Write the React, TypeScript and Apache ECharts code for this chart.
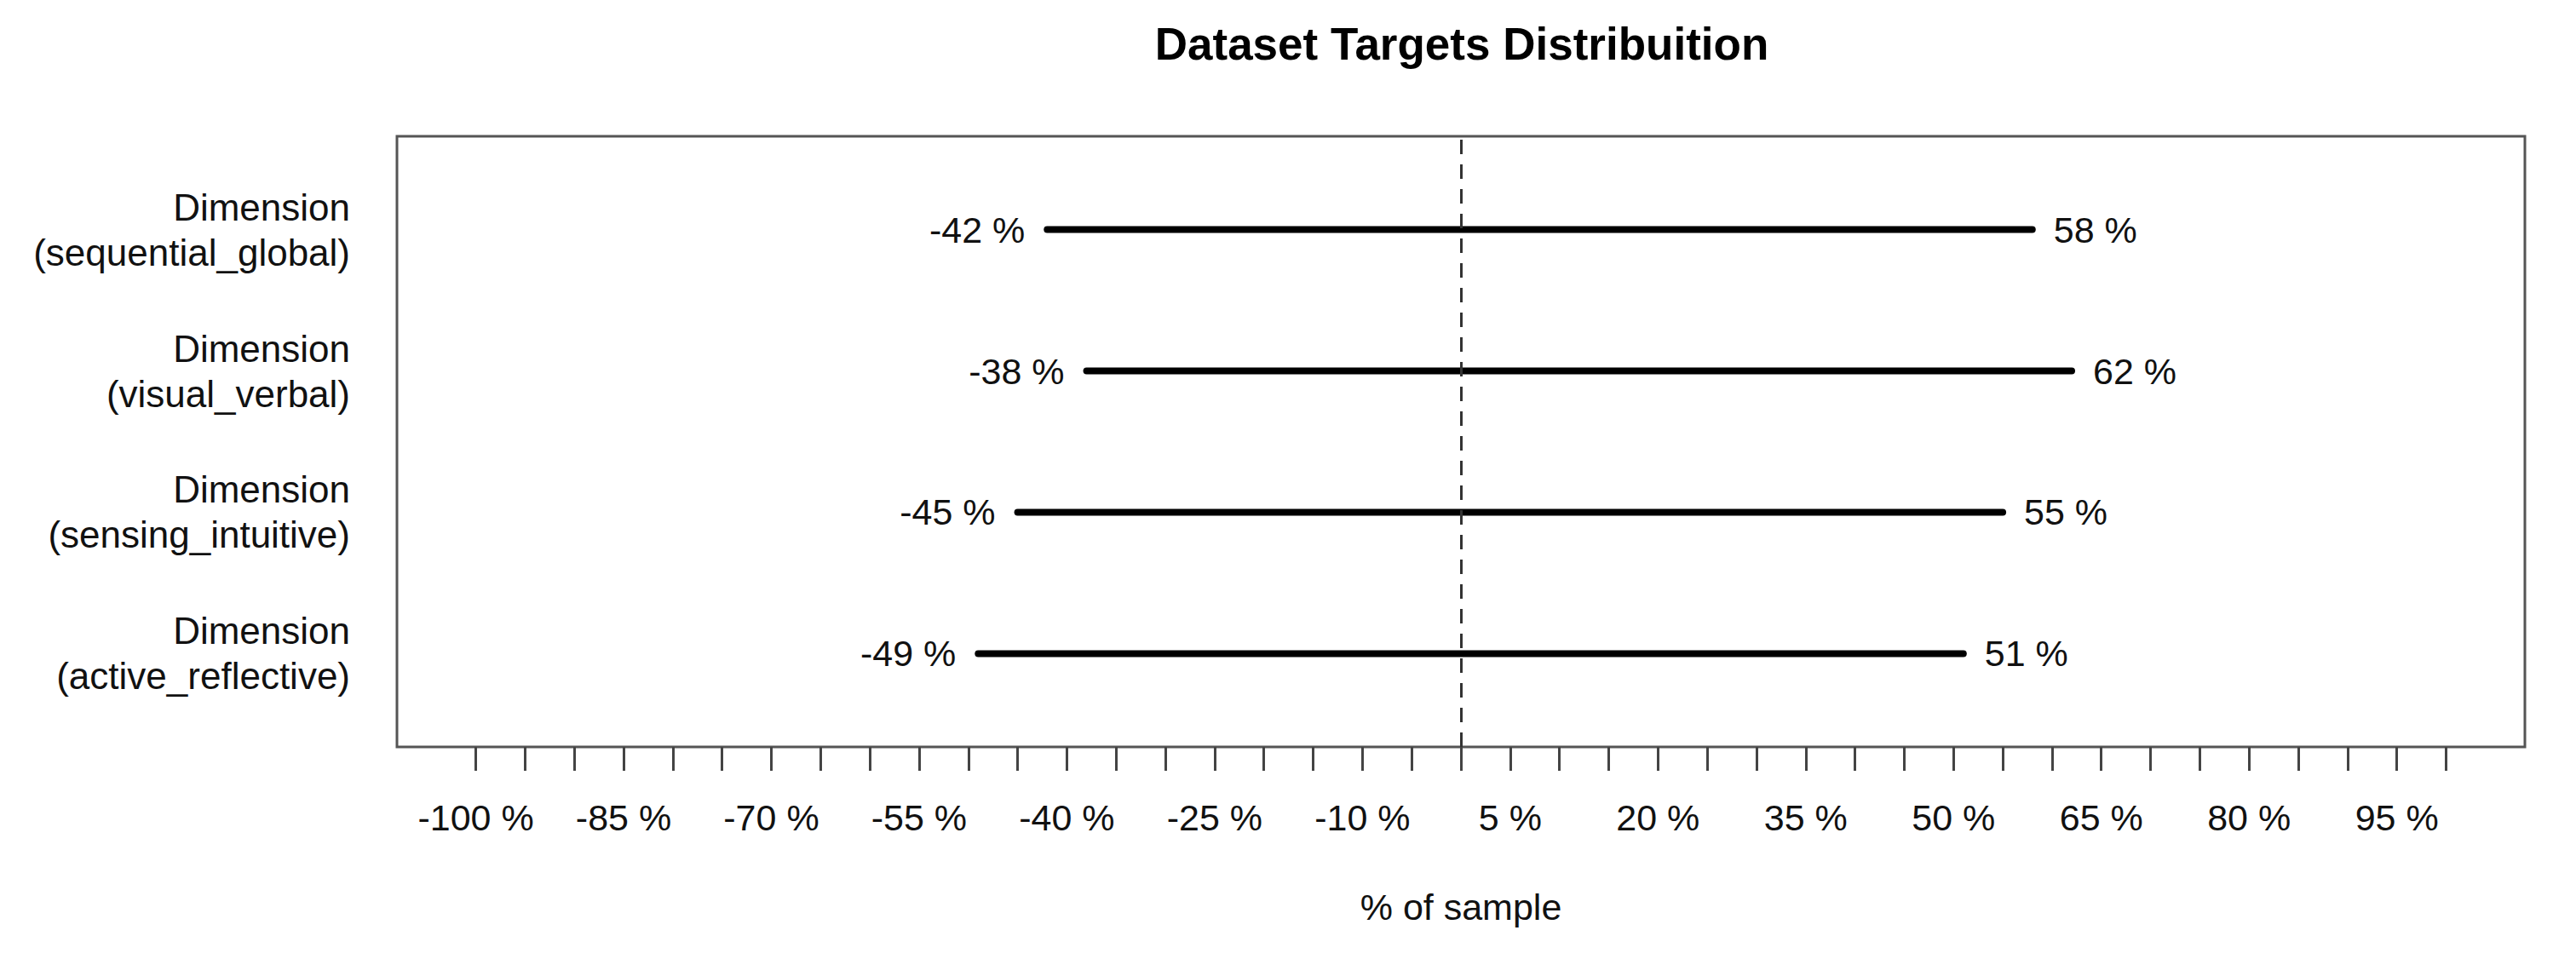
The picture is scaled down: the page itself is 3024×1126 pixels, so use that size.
import React, { useEffect, useRef } from 'react';
import * as echarts from 'echarts';

const FONT = '"Liberation Sans", Arial, Helvetica, sans-serif';

// Categories (bottom to top) and their y positions
const dimensionLabels = [
  'Dimension\n(active_reflective)',
  'Dimension\n(sensing_intuitive)',
  'Dimension\n(visual_verbal)',
  'Dimension\n(sequential_global)',
];
const dimensionPositions = [1, 2, 3, 4];

// Series values (% of sample)
const negativeShares = [-49, -45, -38, -42];
const positiveShares = [51, 55, 62, 58];

// Tick values and tick labels
const xTickValues = [
  -100, -95, -90, -85, -80, -75, -70, -65, -60, -55, -50, -45, -40, -35, -30, -25, -20, -15, -10, -5,
  0, 5, 10, 15, 20, 25, 30, 35, 40, 45, 50, 55, 60, 65, 70, 75, 80, 85, 90, 95, 100,
];
const xLabelValues = [-100, -85, -70, -55, -40, -25, -10, 5, 20, 35, 50, 65, 80, 95];
const yTickValues = [1, 2, 3, 4];

export default function App() {
  const ref = useRef<HTMLDivElement>(null);

  useEffect(() => {
    document.body.style.margin = '0';
    if (!ref.current) return;
    const chart = echarts.init(ref.current, null, { renderer: 'svg' });

    const seriesData = dimensionPositions.map((y, i) => [negativeShares[i], positiveShares[i], y]);

    chart.setOption({
      animation: false,
      backgroundColor: '#ffffff',
      title: {
        text: 'Dataset Targets Distribuition',
        left: 1711,
        top: 20,
        textAlign: 'center',
        textStyle: { fontSize: 53, fontWeight: 'bold', fontFamily: FONT, color: '#000' },
      },
      grid: {
        left: 466,
        right: 60,
        top: 160,
        bottom: 249,
        show: true,
        borderColor: '#555',
        borderWidth: 3,
        backgroundColor: 'transparent',
      },
      xAxis: {
        type: 'value',
        min: -108,
        max: 108,
        splitLine: { show: false },
        axisLine: { show: false },
        axisTick: {
          show: true,
          customValues: xTickValues,
          length: 28,
          lineStyle: { color: '#444', width: 3 },
        },
        axisLabel: {
          customValues: xLabelValues,
          formatter: (v: number) => `${v} %`,
          fontSize: 43,
          fontFamily: FONT,
          color: '#111',
          margin: 61,
        },
        name: '% of sample',
        nameLocation: 'middle',
        nameGap: 166,
        nameTextStyle: { fontSize: 43, fontFamily: FONT, color: '#111' },
      },
      yAxis: {
        type: 'value',
        min: 0.34,
        max: 4.66,
        splitLine: { show: false },
        axisLine: { show: false },
        axisTick: {
          show: true,
          customValues: yTickValues,
          length: 27,
          lineStyle: { color: '#444', width: 3 },
        },
        axisLabel: {
          customValues: yTickValues,
          formatter: (v: number) => dimensionLabels[dimensionPositions.indexOf(v)] ?? '',
          fontSize: 44,
          lineHeight: 53,
          fontFamily: FONT,
          color: '#111',
          align: 'right',
          margin: 55,
        },
      },
      series: [
        {
          type: 'custom',
          data: seriesData,
          encode: { x: [0, 1], y: 2 },
          renderItem: (params: any, api: any) => {
            const y = api.value(2);
            const lo = api.value(0);
            const hi = api.value(1);
            const start = api.coord([lo, y]);
            const end = api.coord([hi, y]);
            return {
              type: 'group',
              children: [
                {
                  type: 'line',
                  shape: { x1: start[0], y1: start[1], x2: end[0], y2: end[1] },
                  style: { stroke: '#000', lineWidth: 8, lineCap: 'round' },
                },
                {
                  type: 'text',
                  x: start[0] - 26,
                  y: start[1],
                  style: {
                    text: `${lo} %`,
                    align: 'right',
                    verticalAlign: 'middle',
                    fontSize: 43,
                    fontFamily: FONT,
                    fill: '#111',
                  },
                },
                {
                  type: 'text',
                  x: end[0] + 25,
                  y: end[1],
                  style: {
                    text: `${hi} %`,
                    align: 'left',
                    verticalAlign: 'middle',
                    fontSize: 43,
                    fontFamily: FONT,
                    fill: '#111',
                  },
                },
              ],
            };
          },
          markLine: {
            silent: true,
            symbol: ['none', 'none'],
            label: { show: false },
            lineStyle: { type: [17, 12], color: '#333', width: 3 },
            data: [{ xAxis: 0 }],
          },
        },
      ],
    });

    return () => chart.dispose();
  }, []);

  return <div ref={ref} style={{ width: 3024, height: 1126 }} />;
}
